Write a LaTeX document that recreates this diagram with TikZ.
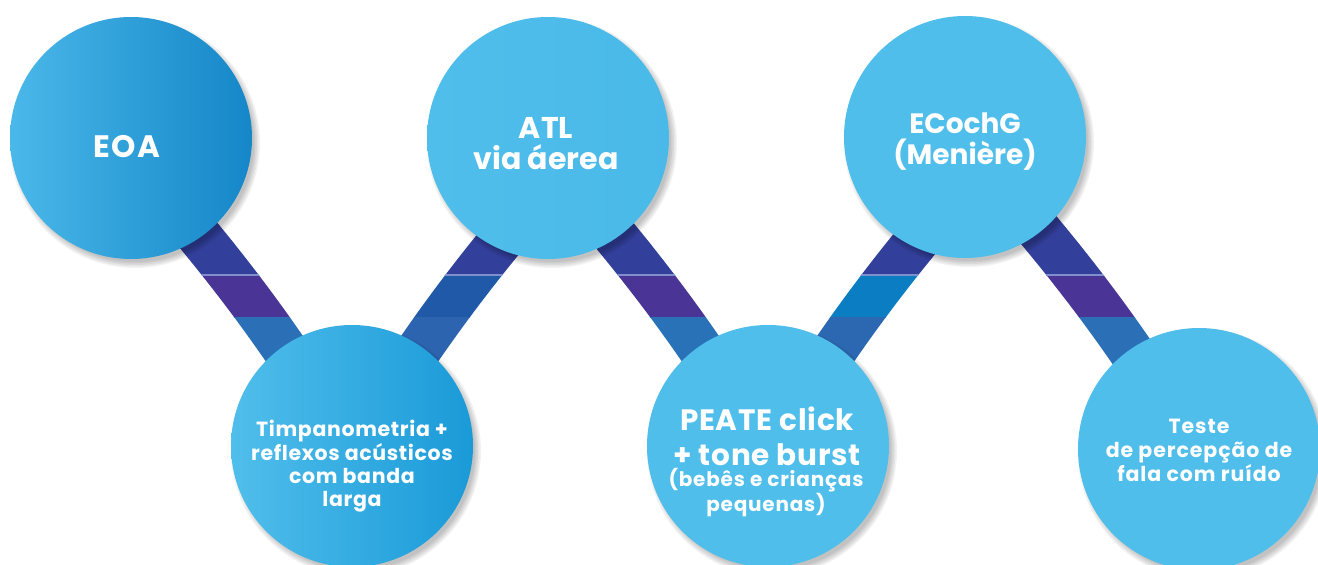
\documentclass[tikz,border=0pt]{standalone}
\usepackage{fontspec}
\setmainfont{Poppins}
\usetikzlibrary{calc}
\definecolor{cl}{HTML}{50BEEB}
\definecolor{ribtop}{HTML}{33409B}
\definecolor{ribline}{HTML}{7F8FCB}
\definecolor{purp}{HTML}{4A3596}
\definecolor{midA}{HTML}{2059A8}
\definecolor{midB}{HTML}{0B7EC3}
\definecolor{botA}{HTML}{2B70B7}
\definecolor{botB}{HTML}{2D64AF}
\definecolor{botC}{HTML}{2A72B8}
\definecolor{botD}{HTML}{2C68B1}
\definecolor{eoaL}{HTML}{4AB8E9}
\definecolor{eoaM}{HTML}{1FA1DB}
\definecolor{eoaR}{HTML}{1586C8}
\definecolor{timR}{HTML}{1A9AD8}
\definecolor{atlR}{HTML}{35ABE2}
\tikzset{
  rib/.style={line width=45pt},
  circ/.style={circle, minimum size=242pt, inner sep=0pt, draw=none},
  lbl/.style={text=white, align=center, inner sep=0pt, anchor=base},
}
\newcommand\ribpts[3]{%
  \coordinate (#1a) at ($(#2)+(#3*24,-30)$);
  \coordinate (#1b) at ($(#2)+(#3*73.7,-111.7)$);
  \coordinate (#1c) at ($(#2)+(#3*135.3,-193.3)$);
  \coordinate (#1d) at ($(#2)+(#3*209,-275)$);
}
\newcommand\ribdraw[3]{%
  \begin{scope}\clip (0,0) rectangle (1318,275);
    \draw[rib,ribtop] (#1a) .. controls (#1b) and (#1c) .. (#1d);\end{scope}
  \begin{scope}\clip (0,275) rectangle (1318,317);
    \draw[rib,#2] (#1a) .. controls (#1b) and (#1c) .. (#1d);\end{scope}
  \begin{scope}\clip (0,317) rectangle (1318,565);
    \draw[rib,#3] (#1a) .. controls (#1b) and (#1c) .. (#1d);\end{scope}
  \begin{scope}\clip (0,274.5) rectangle (1318,275.3);
    \draw[rib,ribline] (#1a) .. controls (#1b) and (#1c) .. (#1d);\end{scope}
}
\newcommand\shadowat[1]{%
  \foreach \rr in {125,123.5,122,120.5,119}{
    \fill[black,opacity=0.05] ($(#1)+(4,5)$) circle[radius=\rr];
  }
}
\begin{document}
\begin{tikzpicture}[x=1pt,y=-1pt]
\clip (0,0) rectangle (1318,565);
\fill[white] (0,0) rectangle (1318,565);
% centres
\coordinate (c1) at (131,138);
\coordinate (c2) at (352,446);
\coordinate (c3) at (548,138);
\coordinate (c4) at (768,446);
\coordinate (c5) at (965,137);
\coordinate (c6) at (1199,449);
% ribbons
\ribpts{ra}{c2}{-1}
\ribpts{rb}{c2}{1}
\ribpts{rc}{c4}{-1}
\ribpts{rd}{c4}{1}
\ribpts{re}{c6}{-1}
\ribdraw{ra}{purp}{botA}
\ribdraw{rb}{midA}{botB}
\ribdraw{rc}{purp}{botC}
\ribdraw{rd}{midB}{botD}
\ribdraw{re}{purp}{botA}
% shadows
\shadowat{c1}\shadowat{c2}\shadowat{c3}\shadowat{c4}\shadowat{c5}\shadowat{c6}
% circles
\node[circ, left color=eoaL, middle color=eoaM, right color=eoaR] (n1) at (c1) {};
\node[circ, left color=cl, middle color=cl!92!timR, right color=timR] (n2) at (c2) {};
\node[circ, left color=cl, middle color=cl, right color=cl!75!atlR] (n3) at (c3) {};
\node[circ, fill=cl] (n4) at (c4) {};
\node[circ, fill=cl] (n5) at (c5) {};
\node[circ, fill=cl] (n6) at (c6) {};
% labels
\node[lbl, font=\bfseries\fontsize{31}{31}\selectfont\addfontfeature{LetterSpace=4}] (l1) at (127,157.5) {EOA};
\node[lbl, font=\bfseries\fontsize{20.5}{23.3}\selectfont\addfontfeature{LetterSpace=3.2}] (l2) at (352,506.7) {Timpanometria +\\reflexos acústicos\\com banda\\larga};
\node[lbl, font=\bfseries\fontsize{30}{31}\selectfont] (l3) at (546,169) {ATL\\via áerea};
\node[lbl, font=\bfseries\fontsize{29.5}{35}\selectfont\addfontfeature{LetterSpace=2.5}] (l4) at (767,465) {PEATE click\\+ tone burst};
\node[lbl, font=\bfseries\fontsize{20}{20}\selectfont\addfontfeature{LetterSpace=4}] (l4b) at (766,511) {(bebês e crianças\\pequenas)};
\node[lbl, font=\bfseries\fontsize{28}{31}\selectfont] (l5) at (965,164) {ECochG\\(Menière)};
\node[lbl, font=\bfseries\fontsize{20.5}{24}\selectfont\addfontfeature{LetterSpace=4.5}] (l6) at (1199,481.7) {Teste\\de percepção de\\fala com ruído};
\end{tikzpicture}
\end{document}
